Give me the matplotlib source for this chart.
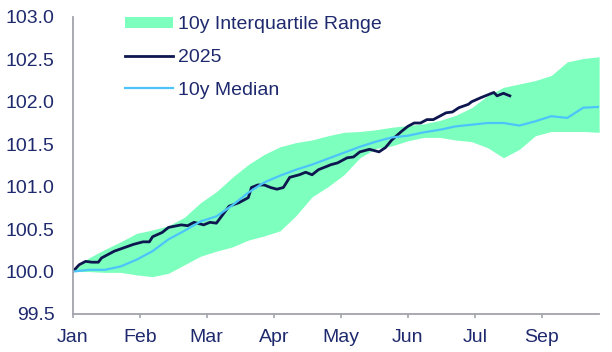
import numpy as np
import matplotlib
matplotlib.use("Agg")
import matplotlib.pyplot as plt

plt.rcParams['font.family'] = ['Liberation Sans', 'DejaVu Sans']

# trading-day index (5-day sampling) for the 10y statistics
days = list(range(0, 166, 5))
iqr_upper = [100.00, 100.16, 100.26, 100.35, 100.45, 100.49, 100.54, 100.64, 100.81, 100.94,
             101.11, 101.26, 101.38, 101.47, 101.52, 101.55, 101.60, 101.64, 101.65, 101.67,
             101.70, 101.72, 101.74, 101.78, 101.84, 101.93, 102.07, 102.17, 102.21, 102.25,
             102.31, 102.47, 102.51, 102.53]
iqr_lower = [100.00, 100.00, 99.99, 99.99, 99.96, 99.94, 99.98, 100.08, 100.18, 100.24,
             100.29, 100.37, 100.42, 100.48, 100.66, 100.88, 101.00, 101.14, 101.34, 101.45,
             101.48, 101.54, 101.58, 101.58, 101.55, 101.53, 101.46, 101.34, 101.44, 101.60,
             101.65, 101.65, 101.65, 101.64]
median_10y = [100.00, 100.02, 100.02, 100.06, 100.14, 100.24, 100.38, 100.48, 100.59, 100.65,
              100.78, 100.93, 101.05, 101.13, 101.20, 101.26, 101.33, 101.40, 101.47, 101.53,
              101.58, 101.60, 101.64, 101.67, 101.71, 101.73, 101.75, 101.75, 101.72, 101.77,
              101.83, 101.81, 101.93, 101.94]

days_2025 = [0, 2, 4, 6, 8, 9, 13, 16, 19, 22, 24, 25, 28, 30, 34, 36, 38, 41, 43, 45,
             47, 49, 52, 55, 56, 58, 60, 62, 64, 66, 68, 71, 73, 75, 77, 81, 83, 86, 88, 90,
             93, 96, 98, 100, 103, 105, 107, 109, 111, 113, 115, 117, 119, 121, 124, 125,
             128, 130, 132, 133, 135, 137]
y2025 = [100.00, 100.08, 100.12, 100.11, 100.11, 100.16, 100.24, 100.28, 100.32, 100.35,
         100.35, 100.41, 100.46, 100.52, 100.55, 100.54, 100.58, 100.55, 100.58, 100.57,
         100.67, 100.77, 100.81, 100.87, 100.99, 101.02, 101.02, 100.99, 100.97, 100.99,
         101.11, 101.14, 101.17, 101.14, 101.20, 101.26, 101.28, 101.34, 101.35, 101.41,
         101.44, 101.41, 101.46, 101.55, 101.65, 101.71, 101.75, 101.75, 101.79, 101.79,
         101.83, 101.87, 101.88, 101.93, 101.97, 102.00, 102.05, 102.08, 102.11, 102.07,
         102.10, 102.07]

tick_days = [0, 21, 42, 63, 84, 105, 126, 147]
tick_labels = ['Jan', 'Feb', 'Mar', 'Apr', 'May', 'Jun', 'Jul', 'Sep']
yticks = [99.5, 100.0, 100.5, 101.0, 101.5, 102.0, 102.5, 103.0]

text_c = '#1F2A6E'
green = '#7DFFBE'
navy = '#0E1650'
blue = '#4CC4FA'
spine_c = '#A3A3AD'

fig = plt.figure(figsize=(6.12, 3.52), dpi=100)
ax = fig.add_axes([0.119, 0.108, 0.860, 0.844])

ax.fill_between(days, iqr_lower, iqr_upper, color=green, linewidth=0, label='10y Interquartile Range')
ax.plot(days_2025, y2025, color=navy, linewidth=2.0, label='2025')
ax.plot(days, median_10y, color=blue, linewidth=1.6, label='10y Median')

ax.set_xlim(0, 165)
ax.set_ylim(99.5, 103.0)
ax.set_xticks(tick_days)
ax.set_xticklabels(tick_labels)
ax.set_yticks(yticks)
ax.set_yticklabels([f'{v:.1f}' for v in yticks])

for s in ['top', 'right']:
    ax.spines[s].set_visible(False)
for s in ['left', 'bottom']:
    ax.spines[s].set_color(spine_c)
    ax.spines[s].set_linewidth(1.3)

ax.tick_params(axis='x', colors=spine_c, length=3, width=1.2, labelcolor=text_c, labelsize=14, pad=8)
ax.tick_params(axis='y', length=0, labelcolor=text_c, labelsize=14, pad=13)

leg = ax.legend(loc='upper left', bbox_to_anchor=(0.099, 1.003), frameon=False,
                fontsize=14, handlelength=2.47, handleheight=0.5, handletextpad=0.26,
                labelspacing=0.81, borderaxespad=0, borderpad=0)
for t in leg.get_texts():
    t.set_color(text_c)

fig.savefig('out.png', dpi=100)
